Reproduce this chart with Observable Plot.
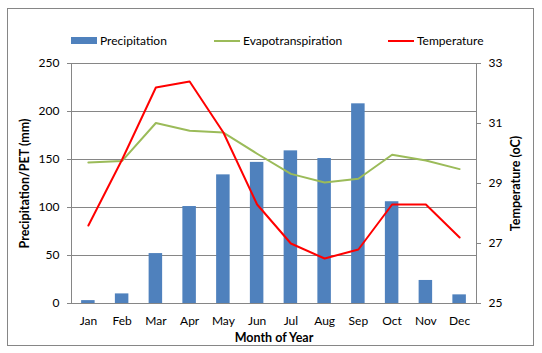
<!DOCTYPE html>
<html>
<head>
<meta charset="utf-8">
<script src="https://cdn.jsdelivr.net/npm/d3@7"></script>
<script src="https://cdn.jsdelivr.net/npm/@observablehq/plot@0.6"></script>
<style>
  html, body { margin: 0; padding: 0; background: #fff; }
  #wrap { position: relative; width: 542px; height: 353px; font-family: Lato, "Open Sans", sans-serif; color: #000; }
  #border { position: absolute; left: 7px; top: 8px; width: 527px; height: 338px; border: 1px solid #868686; box-sizing: border-box; }
  .leg { position: absolute; top: 33px; font-size: 12px; display: flex; align-items: center; white-space: nowrap; }
  .sw { display: inline-block; width: 26px; margin-right: 3px; }
  #chart { position: absolute; left: 0; top: 0; }
</style>
</head>
<body>
<div id="wrap">
  <div id="border"></div>
  <div id="chart"></div>
</div>
<script>
const months = ["Jan","Feb","Mar","Apr","May","Jun","Jul","Aug","Sep","Oct","Nov","Dec"];
const precipitation = [3, 10, 52, 101, 134, 147, 159, 151, 208, 106, 24, 9];
const evapotranspiration = [147, 148.5, 188, 180, 178, 156, 135, 126, 130, 155, 149, 140];
const temperature = [27.6, 29.8, 32.2, 32.4, 30.7, 28.3, 27.0, 26.5, 26.8, 28.3, 28.3, 27.2];
const leftTicks = [0, 50, 100, 150, 200, 250];
const tempTicks = [25, 27, 29, 31, 33];
const seriesNames = ["Precipitation", "Evapotranspiration", "Temperature"];
const colors = ["#4F81BD", "#9BBB59", "#FF0000"];

const tMin = 25, tMax = 33, yMax = 250;
const toLeft = t => (t - tMin) / (tMax - tMin) * yMax;

const rows = months.map((m, i) => ({
  month: m, p: precipitation[i], e: evapotranspiration[i], t: toLeft(temperature[i])
}));

const plot = Plot.plot({
  width: 542,
  height: 353,
  marginLeft: 71,
  marginRight: 66,
  marginTop: 63,
  marginBottom: 50,
  style: { fontFamily: "Lato, 'Open Sans', sans-serif", fontSize: "12px", color: "#000", background: "transparent", overflow: "visible" },
  x: { type: "band", domain: months, paddingInner: 0.6, paddingOuter: 0.3, round: false, label: null },
  y: { domain: [0, yMax], label: null },
  marks: [
    Plot.gridY(leftTicks, { stroke: "#868686", strokeOpacity: 1 }),
    Plot.barY(rows, { x: "month", y: "p", fill: colors[0] }),
    Plot.frame({ stroke: "#868686" }),
    Plot.line(rows, { x: "month", y: "e", stroke: colors[1], strokeWidth: 2 }),
    Plot.line(rows, { x: "month", y: "t", stroke: colors[2], strokeWidth: 2 }),
    Plot.axisY(leftTicks, { anchor: "left", tickSize: 4, tickPadding: 8, stroke: "#868686", fontSize: 12, label: null }),
    Plot.axisY(leftTicks, { anchor: "left", tickSize: 0, text: null, label: "Precipitation/PET (mm)", labelAnchor: "center", labelArrow: "none", labelOffset: 51, fontWeight: "bold", fontSize: 12.5 }),
    Plot.axisY(tempTicks.map(toLeft), { anchor: "right", tickSize: 4, tickPadding: 8, stroke: "#868686", fontSize: 12, tickFormat: (d) => String(Math.round(d / yMax * (tMax - tMin) + tMin)), label: null }),
    Plot.axisY(tempTicks.map(toLeft), { anchor: "right", tickSize: 0, text: null, label: "Temperature (oC)", labelAnchor: "center", labelArrow: "none", labelOffset: 43, fontWeight: "bold", fontSize: 12.5 }),
    Plot.axisX(months, { anchor: "bottom", tickSize: 0, tickPadding: 13, fontSize: 12, label: null }),
    Plot.axisX(months, { anchor: "bottom", tickSize: 0, text: null, label: "Month of Year", labelAnchor: "center", labelArrow: "none", labelOffset: 38, fontWeight: "bold", fontSize: 12.5 })
  ]
});
document.getElementById("chart").appendChild(plot);

// Legend
const wrap = document.getElementById("wrap");
const legLeft = [71, 214, 388];
seriesNames.forEach((name, i) => {
  const d = document.createElement("div");
  d.className = "leg";
  d.style.left = legLeft[i] + "px";
  const sw = document.createElement("span");
  sw.className = "sw";
  sw.style.background = colors[i];
  sw.style.height = i === 0 ? "7px" : "2px";
  d.appendChild(sw);
  d.appendChild(document.createTextNode(name));
  wrap.appendChild(d);
});
</script>
</body>
</html>
